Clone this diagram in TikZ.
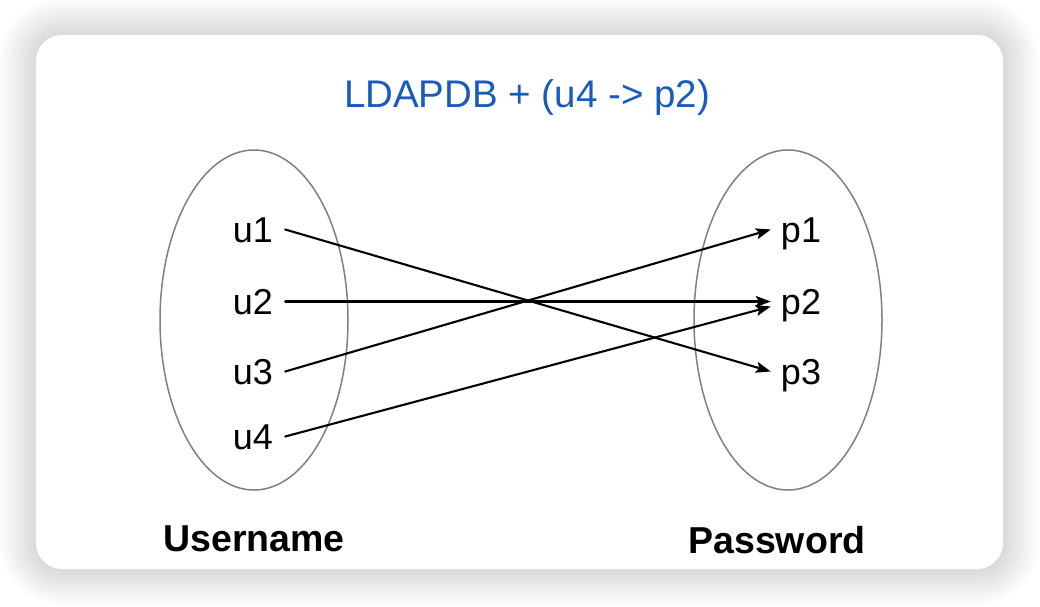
\documentclass[tikz,border=0pt]{standalone}
\usepackage{fontspec}
\setmainfont{Liberation Sans}
\usetikzlibrary{shapes.geometric,arrows.meta}

\definecolor{titleblue}{RGB}{24,90,190}
\definecolor{ringgray}{RGB}{128,128,128}

\begin{document}
\begin{tikzpicture}[
  x=1pt, y=-1pt,   % pixel grid of the reference (y grows downward)
  every path/.style={line cap=round, line join=round},
  item/.style={font=\fontsize{36}{36}\selectfont, text height=26pt, text depth=0pt, inner ysep=0pt},
  user/.style={item, inner xsep=12pt},
  pass/.style={item, inner xsep=10pt},
  ring/.style={draw=ringgray, line width=1.5pt, ellipse, inner sep=0pt,
               minimum width=188pt, minimum height=340pt},
  link/.style={line width=2.1pt, -{Stealth[length=15pt,width=11pt,inset=3pt]}},
  caption/.style={font=\bfseries\fontsize{37.5}{37.5}\selectfont, anchor=base}
]

% ---------------- Page and card ----------------
\useasboundingbox (0,0) rectangle (1040,606);
\fill[white] (0,0) rectangle (1040,606);
% soft shadow round the card
\foreach \k [evaluate=\k as \r using 26+3*\k] in {1,...,12}
  \fill[black, opacity=0.011, rounded corners=\r pt]
    ({36-3*\k},{35-3*\k}) rectangle ({1003+3*\k},{569+3*\k});
\fill[white, rounded corners=26pt] (36,35) rectangle (1003,569);

% ---------------- Title ----------------
\node[text=titleblue, font=\fontsize{38.5}{38.5}\selectfont, anchor=base] (title) at (527,107)
  {LDAPDB + (u4 -> p2)};

% ---------------- Sets ----------------
\node[ring] (users) at (254,320) {};
\node[ring] (passwords) at (788,320) {};

\foreach \n/\y in {1/229.5, 2/301.5, 3/371.5, 4/436.5}
  \node[user] (u\n) at (253,\y) {u\n};
\foreach \n/\y in {1/229.5, 2/301.5, 3/371.5}
  \node[pass] (p\n) at (801,\y) {p\n};

% ---------------- Mapping ----------------
\draw[link] (u1.east) -- (p3.west);
\draw[link] (u2.east) -- (p2.west);
\draw[link] (u3.east) -- (p1.west);
\draw[link] (u4.east) -- ([yshift=-5pt]p2.west);

% ---------------- Captions ----------------
\node[caption] (userlabel) at (254,551) {Username};
\node[caption] (passlabel) at (777,553) {Password};

\end{tikzpicture}
\end{document}
